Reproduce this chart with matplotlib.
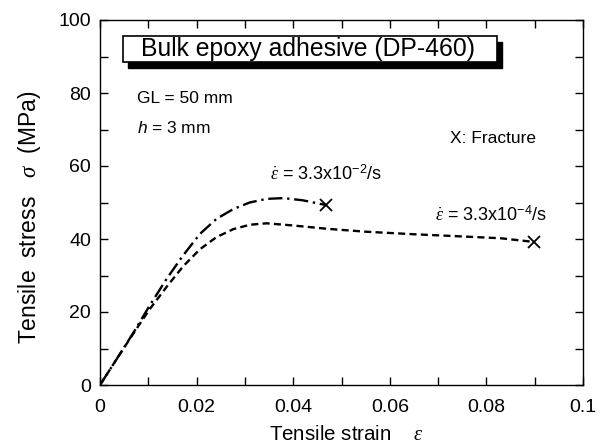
import matplotlib
matplotlib.use("Agg")
import matplotlib.pyplot as plt
from matplotlib.patches import Rectangle
from matplotlib.ticker import MultipleLocator

plt.rcParams["font.family"] = ["Liberation Sans", "DejaVu Sans"]
plt.rcParams["mathtext.fontset"] = "custom"
plt.rcParams["mathtext.rm"] = "Liberation Sans"
plt.rcParams["mathtext.it"] = "Liberation Serif:italic"
plt.rcParams["mathtext.sf"] = "Liberation Sans:italic"

# strain rate 3.3x10^-2 /s (dash-dot)
strain_fast = [0, 0.0035, 0.0069, 0.0103, 0.0138, 0.0172, 0.0207, 0.0241, 0.0276,
               0.031, 0.0345, 0.038, 0.042, 0.0468]
stress_fast = [0, 7.2, 14.3, 21.8, 29.1, 35.5, 41.4, 45.5, 48.2,
               50.0, 51.0, 51.2, 50.6, 49.3]

# strain rate 3.3x10^-4 /s (dashed)
strain_slow = [0, 0.0035, 0.0069, 0.0103, 0.0138, 0.0172, 0.0207, 0.0241, 0.0276,
               0.031, 0.0345, 0.040, 0.047, 0.055, 0.065, 0.075, 0.083, 0.0898]
stress_slow = [0, 7.2, 14.1, 20.8, 26.9, 32.5, 37.2, 40.5, 42.7,
               43.9, 44.3, 43.7, 42.8, 42.0, 41.3, 40.7, 40.2, 39.2]

fig = plt.figure(figsize=(6.11, 4.47), dpi=100)
ax = fig.add_axes([100 / 611, 1 - 385 / 447, 483 / 611, 365 / 447])

ax.plot(strain_fast, stress_fast, color="k", lw=1.7, ls=(0, (6, 2, 1, 2)))
ax.plot(strain_slow, stress_slow, color="k", lw=1.7, ls=(0, (3, 1.8)))
ax.plot(strain_fast[-1], stress_fast[-1], "kx", ms=8.5, mew=1.3)
ax.plot(strain_slow[-1], stress_slow[-1], "kx", ms=8.5, mew=1.3)

ax.set_xlim(0, 0.1)
ax.set_ylim(0, 100)
ax.xaxis.set_minor_locator(MultipleLocator(0.01))
ax.yaxis.set_major_locator(MultipleLocator(20))
ax.yaxis.set_minor_locator(MultipleLocator(10))
ax.set_xticks([0, 0.02, 0.04, 0.06, 0.08, 0.1])
ax.set_xticklabels(["0", "0.02", "0.04", "0.06", "0.08", "0.1"])
ax.tick_params(which="both", direction="in", top=True, right=True, labelsize=14,
               width=1, length=6)
ax.tick_params(axis="x", pad=10)
ax.tick_params(axis="y", pad=6.5)
for s in ax.spines.values():
    s.set_linewidth(1.0)

ax.set_xlabel(r"Tensile strain    $\varepsilon$", fontsize=14.8)
ax.xaxis.set_label_coords(0.51, -0.11)
ax.set_ylabel(r"Tensile  stress   $\sigma$  (MPa)", fontsize=16.5)
ax.yaxis.set_label_coords(-0.118, 0.46)

# title box with drop shadow
ax.add_patch(Rectangle((0.0476 + 0.0104, 0.885 - 0.0164), 0.7744, 0.0712,
                       transform=ax.transAxes, fc="k", ec="k", zorder=4))
ax.add_patch(Rectangle((0.0476, 0.885), 0.7744, 0.0712,
                       transform=ax.transAxes, fc="white", ec="k", lw=1.2, zorder=5))
ax.text(0.43, 0.902, "Bulk epoxy adhesive (DP-460)", fontsize=17.8, ha="center",
        va="baseline", transform=ax.transAxes, zorder=6)

ax.text(0.0077, 78.4, "GL = 50 mm", fontsize=12.5, va="center")
ax.text(0.0077, 70.5, r"$\mathsf{h}$ = 3 mm", fontsize=12.5, va="center")
ax.text(0.0725, 67.5, "X: Fracture", fontsize=12.5, va="center")
ax.text(0.0353, 57.6, r"$\dot{\varepsilon}$ = 3.3x10$^{-2}$/s", fontsize=13, va="center")
ax.text(0.0693, 46.4, r"$\dot{\varepsilon}$ = 3.3x10$^{-4}$/s", fontsize=13, va="center")

fig.savefig("out.png", dpi=100)
